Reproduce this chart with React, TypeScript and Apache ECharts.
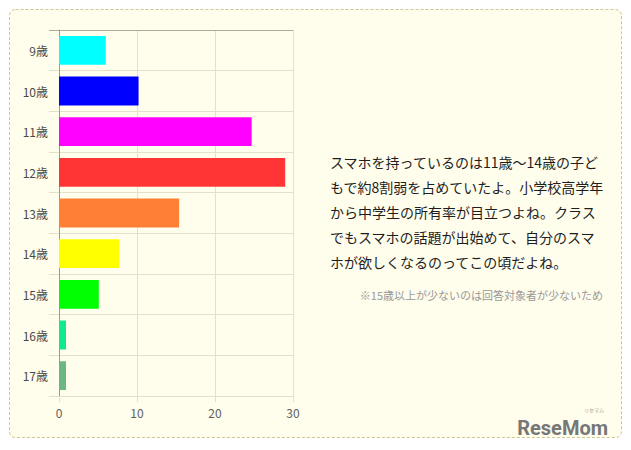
import React, { useEffect, useRef } from "react";
import * as echarts from "echarts";

const categories = ["9歳", "10歳", "11歳", "12歳", "13歳", "14歳", "15歳", "16歳", "17歳"];
const values = [6.0, 10.2, 24.7, 29.0, 15.4, 7.7, 5.1, 0.9, 0.9];
const barColors = ["#00ffff", "#0000ff", "#ff00ff", "#ff3535", "#ff8035", "#ffff00", "#00ff00", "#12e88f", "#6cb682"];
const xTicks = { min: 0, max: 30, interval: 10 };
const paragraph = [
  "スマホを持っているのは11歳～14歳の子ど",
  "もで約8割弱を占めていたよ。小学校高学年",
  "から中学生の所有率が目立つよね。クラス",
  "でもスマホの話題が出始めて、自分のスマ",
  "ホが欲しくなるのってこの頃だよね。",
];
const footnote = "※15歳以上が少ないのは回答対象者が少ないため";
const logoText = "ReseMom";
const logoSub = "リセマム";

export default function App() {
  const ref = useRef<HTMLDivElement>(null);
  useEffect(() => {
    if (!ref.current) return;
    const chart = echarts.init(ref.current, null, { renderer: "svg" });
    const font = "'Noto Sans CJK JP', 'Noto Sans', sans-serif";
    const gridColor = "#e3e0cc";
    chart.setOption({
      animation: false,
      backgroundColor: "#ffffff",
      textStyle: { fontFamily: font },
      grid: { left: 59, top: 30, width: 234, height: 366, containLabel: false },
      xAxis: {
        type: "value",
        min: xTicks.min,
        max: xTicks.max,
        interval: xTicks.interval,
        axisLine: { show: false },
        axisTick: { show: true, length: 6, lineStyle: { color: gridColor } },
        splitLine: { show: true, lineStyle: { color: gridColor } },
        axisLabel: { color: "#606060", fontSize: 12, margin: 10, fontFamily: font },
      },
      yAxis: {
        type: "category",
        data: categories,
        inverse: true,
        axisLine: { show: true, lineStyle: { color: "#999" } },
        axisTick: { show: true, length: 10, lineStyle: { color: gridColor } },
        splitLine: { show: true, lineStyle: { color: gridColor } },
        axisLabel: { color: "#4a4a4a", fontSize: 12, margin: 11, fontFamily: font },
      },
      series: [
        {
          type: "bar",
          data: values.map((v, i) => ({ value: v, itemStyle: { color: barColors[i] } })),
          barCategoryGap: "29%",
          z: 3,
        },
      ],
      graphic: [
        {
          type: "rect",
          z: -10,
          silent: true,
          shape: { x: 9.5, y: 9.5, width: 612, height: 428, r: 6 },
          style: { fill: "#fffdec", stroke: "#d2c48e", lineWidth: 1, lineDash: [3, 2] },
        },
        {
          type: "line",
          z: 1,
          shape: { x1: 49, y1: 30.5, x2: 293, y2: 30.5 },
          style: { stroke: "#aaa9a0", lineWidth: 1 },
        },
        ...paragraph.map((t, i) => ({
          type: "text",
          x: 330,
          y: 162 + i * 25,
          style: {
            text: t,
            fill: "#1e1e1e",
            fontSize: 14,
            fontFamily: font,
            verticalAlign: "middle",
            textAlign: "left",
          },
        })),
        {
          type: "text",
          x: 603,
          y: 295,
          style: {
            text: footnote,
            fill: "#999",
            fontSize: 11,
            fontFamily: font,
            verticalAlign: "middle",
            textAlign: "right",
          },
        },
        {
          type: "text",
          x: 608,
          y: 428,
          style: {
            text: logoText,
            fill: "#777777",
            fontSize: 20,
            fontWeight: "bold",
            fontFamily: "'Liberation Sans Narrow', 'Roboto', sans-serif",
            verticalAlign: "middle",
            textAlign: "right",
          },
        },
        {
          type: "text",
          x: 604,
          y: 412,
          style: {
            text: logoSub,
            fill: "#999",
            fontSize: 5,
            fontFamily: font,
            verticalAlign: "bottom",
            textAlign: "right",
          },
        },
      ],
    });
    return () => chart.dispose();
  }, []);
  return (
    <div
      ref={ref}
      style={{ position: "fixed", left: 0, top: 0, width: 631, height: 450 }}
    />
  );
}
